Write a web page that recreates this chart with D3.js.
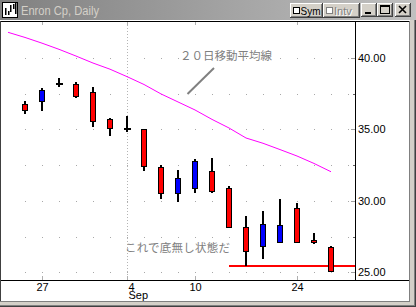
<!DOCTYPE html>
<html><head><meta charset="utf-8">
<script src="https://cdn.jsdelivr.net/npm/d3@7"></script>
<style>
html,body{margin:0;padding:0;background:#d4d0c8;overflow:hidden}
svg{display:block}
</style></head>
<body>
<script>
// ---- data ----
const slotDates = ["Aug 23","Aug 24","Aug 27","Aug 28","Aug 29","Aug 30","Aug 31","Sep 4","Sep 5","Sep 6","Sep 7","Sep 10","Sep 17","Sep 18","Sep 19","Sep 20","Sep 21","Sep 24","Sep 25","Sep 26","Sep 27"];
const candleDates = ["Aug 24","Aug 27","Aug 28","Aug 29","Aug 30","Aug 31","Sep 4","Sep 5","Sep 6","Sep 7","Sep 10","Sep 17","Sep 18","Sep 19","Sep 20","Sep 21","Sep 24","Sep 25","Sep 26"];
const openP  = [36.77,36.89,38.17,38.15,37.59,35.70,35.00,35.02,32.34,30.45,30.85,32.06,30.87,28.15,26.79,27.03,29.48,27.26,26.75];
const highP  = [36.98,37.87,38.61,38.31,37.96,35.79,35.93,35.02,32.50,32.15,32.92,32.99,31.03,28.94,29.31,30.13,29.87,27.75,26.82];
const lowP   = [36.09,36.30,37.98,37.21,35.18,34.55,34.79,32.10,30.15,29.94,30.57,30.52,28.08,25.46,25.91,27.03,27.03,26.96,25.00];
const closeP = [36.30,37.73,38.17,37.28,35.49,35.00,35.00,32.34,30.48,31.57,32.76,30.64,28.08,26.40,28.36,28.29,27.03,27.03,25.04];
const maDates = ["Aug 23","Aug 24","Aug 27","Aug 28","Aug 29","Aug 30","Aug 31","Sep 4","Sep 5","Sep 6","Sep 7","Sep 10","Sep 17","Sep 18","Sep 19","Sep 20","Sep 21","Sep 24","Sep 25","Sep 26"];
const maValues = [41.78,41.42,41.02,40.59,40.12,39.63,39.20,38.68,38.13,37.47,36.91,36.35,35.69,35.09,34.39,34.02,33.58,33.13,32.61,32.03];
const supportLevel = 25.45;
const supportStart = "Sep 18";
const yTicks = [25, 30, 35, 40];
const yMinorTicks = [27.5, 32.5, 37.5];
const gridLevels = [25, 27.5, 30, 32.5, 35, 37.5, 40];
const xTickDates = ["Aug 27","Sep 4","Sep 10","Sep 24"];
const xTickLabels = ["27","4","10","24"];
const monthBreakDate = "Sep 4";
const monthLabel = "Sep";
const title = "Enron Cp, Daily";
const maLabel = "２０日移動平均線";
const noteLabel = "これで底無し状態だ";

// ---- layout ----
const W = 416, H = 307;
const plotR = 355, plotB = 280;
const svg = d3.select("body").append("svg").attr("width", W).attr("height", H)
  .style("font-family", "'Liberation Sans', Arial, sans-serif");

const x = d3.scalePoint().domain(slotDates).range([8, 348]);
const y = d3.scaleLinear().domain([24.46, 42.5]).range([plotB, 22]);

// window frame
svg.append("rect").attr("x",0).attr("y",0).attr("width",W).attr("height",H).attr("fill","#d4d0c8");
svg.append("line").attr("x1",415.5).attr("x2",415.5).attr("y1",0).attr("y2",H).attr("stroke","#404040");
svg.append("line").attr("x1",0).attr("x2",W).attr("y1",306.5).attr("y2",306.5).attr("stroke","#404040");
svg.append("line").attr("x1",414.5).attr("x2",414.5).attr("y1",0).attr("y2",306).attr("stroke","#808080");
svg.append("line").attr("x1",0).attr("x2",415).attr("y1",305.5).attr("y2",305.5).attr("stroke","#808080");

// client area
svg.append("rect").attr("x",1).attr("y",21).attr("width",408).attr("height",280).attr("fill","#fff");
svg.append("line").attr("x1",0.5).attr("x2",0.5).attr("y1",20).attr("y2",302).attr("stroke","#404040");
svg.append("line").attr("x1",409.5).attr("x2",409.5).attr("y1",20).attr("y2",302).attr("stroke","#808080");
svg.append("line").attr("x1",0).attr("x2",410).attr("y1",301.5).attr("y2",301.5).attr("stroke","#808080");

// title bar
const defs = svg.append("defs");
const grad = defs.append("linearGradient").attr("id","tg").attr("x1","0").attr("x2","1").attr("y1","0").attr("y2","0");
grad.append("stop").attr("offset","0").attr("stop-color","#808080");
grad.append("stop").attr("offset","1").attr("stop-color","#c0c0c0");
svg.append("rect").attr("x",0).attr("y",0).attr("width",W).attr("height",20).attr("fill","url(#tg)");
svg.append("rect").attr("x",0).attr("y",20).attr("width",W-6).attr("height",1).attr("fill","#fff");
// icon
const ic = svg.append("g");
ic.append("rect").attr("x",2.5).attr("y",2.5).attr("width",15).attr("height",15).attr("fill","#fff").attr("stroke","#000");
[[5,8,15],[8,11,15],[10,5,12],[13,4,9],[15,3,14]].forEach(d=>{
  ic.append("rect").attr("x",d[0]).attr("y",d[1]).attr("width",1.5).attr("height",d[2]-d[1]).attr("fill","#000");
});
svg.append("text").attr("x",21).attr("y",15).attr("font-size",12).attr("fill","#d4d0c8")
  .attr("textLength",78).attr("lengthAdjust","spacingAndGlyphs").text(title);

function bevel(x0,y0,w,h){
  const g = svg.append("g").attr("shape-rendering","crispEdges");
  g.append("rect").attr("x",x0).attr("y",y0).attr("width",w).attr("height",h).attr("fill","#d4d0c8");
  g.append("line").attr("x1",x0).attr("x2",x0+w).attr("y1",y0+0.5).attr("y2",y0+0.5).attr("stroke","#fff");
  g.append("line").attr("x1",x0+0.5).attr("x2",x0+0.5).attr("y1",y0).attr("y2",y0+h).attr("stroke","#fff");
  g.append("line").attr("x1",x0).attr("x2",x0+w).attr("y1",y0+h-0.5).attr("y2",y0+h-0.5).attr("stroke","#404040");
  g.append("line").attr("x1",x0+w-0.5).attr("x2",x0+w-0.5).attr("y1",y0).attr("y2",y0+h).attr("stroke","#404040");
  g.append("line").attr("x1",x0+1).attr("x2",x0+w-1).attr("y1",y0+h-1.5).attr("y2",y0+h-1.5).attr("stroke","#808080");
  g.append("line").attr("x1",x0+w-1.5).attr("x2",x0+w-1.5).attr("y1",y0+1).attr("y2",y0+h-1).attr("stroke","#808080");
  return g;
}
// Sym button
bevel(290,3,33,15);
svg.append("rect").attr("x",293.5).attr("y",7.5).attr("width",6).attr("height",6).attr("fill","#fff").attr("stroke","#000").attr("shape-rendering","crispEdges");
svg.append("text").attr("x",300.5).attr("y",15).attr("font-size",11).attr("fill","#000")
  .attr("textLength",20).attr("lengthAdjust","spacingAndGlyphs").text("Sym");
// Intv button
bevel(323,3,37,15);
svg.append("rect").attr("x",326.5).attr("y",7.5).attr("width",6).attr("height",6).attr("fill","#fff").attr("stroke","#808080").attr("shape-rendering","crispEdges");
svg.append("text").attr("x",334).attr("y",15).attr("font-size",11).attr("fill","#808080")
  .style("text-shadow","1px 1px 0 #fff").text("Intv");
// min / max / close
bevel(361,3,16,14);
svg.append("rect").attr("x",365).attr("y",12).attr("width",6).attr("height",2).attr("fill","#000");
bevel(377,3,16,14);
svg.append("rect").attr("x",380.5).attr("y",5.5).attr("width",9).attr("height",8).attr("fill","none").attr("stroke","#000").attr("shape-rendering","crispEdges");
svg.append("rect").attr("x",380).attr("y",5).attr("width",10).attr("height",2).attr("fill","#000");
bevel(395,3,16,14);
svg.append("path").attr("d","M399,6 L406,13 M406,6 L399,13").attr("stroke","#000").attr("stroke-width",1.6);

// ---- plot ----
const plot = svg.append("g");
plot.append("line").attr("x1",1).attr("x2",409).attr("y1",21.5).attr("y2",21.5).attr("stroke","#000");

// grid dots
const gridG = plot.append("g").attr("shape-rendering","crispEdges");
gridLevels.forEach(lv => {
  slotDates.slice(1).forEach(d => {
    gridG.append("rect").attr("x", x(d)).attr("y", Math.round(y(lv))).attr("width",1).attr("height",1).attr("fill","#a8a8a8");
  });
});
// month break vertical dotted line
plot.append("line").attr("x1", x(monthBreakDate)+0.5).attr("x2", x(monthBreakDate)+0.5)
  .attr("y1", 22).attr("y2", plotB).attr("stroke","#b4b4b4").attr("stroke-dasharray","1,2");
// top / bottom date ticks
xTickDates.forEach(d => {
  plot.append("line").attr("x1",x(d)+0.5).attr("x2",x(d)+0.5).attr("y1",22).attr("y2",25).attr("stroke","#b0b0b0");
  plot.append("line").attr("x1",x(d)+0.5).attr("x2",x(d)+0.5).attr("y1",276).attr("y2",280).attr("stroke","#b0b0b0");
});

// moving average
plot.append("path").datum(maValues)
  .attr("d", d3.line().x((v,i)=>x(maDates[i])).y(v=>y(v)))
  .attr("fill","none").attr("stroke","#ff00ff").attr("stroke-width",1);

// support line
plot.append("rect").attr("x", x(supportStart)).attr("y", Math.round(y(supportLevel))-1)
  .attr("width", plotR - x(supportStart)).attr("height", 2).attr("fill","#ff0000");

// candles
const cg = plot.append("g").attr("shape-rendering","crispEdges");
candleDates.forEach((d,i) => {
  const cx = x(d);
  const o = openP[i], c = closeP[i], h = highP[i], l = lowP[i];
  const yh = Math.round(y(h)), yl = Math.round(y(l));
  cg.append("rect").attr("x",cx-1).attr("y",yh).attr("width",2).attr("height",Math.max(1,yl-yh)).attr("fill","#000");
  if (o === c) {
    cg.append("rect").attr("x",cx-3).attr("y",Math.round(y(o))-1).attr("width",7).attr("height",2).attr("fill","#000");
  } else {
    const top = Math.round(y(Math.max(o,c))), bot = Math.round(y(Math.min(o,c)));
    cg.append("rect").attr("x",cx-2.5).attr("y",top+0.5).attr("width",5).attr("height",Math.max(1,bot-top-1))
      .attr("fill", c > o ? "#0000ff" : "#ff0000").attr("stroke","#000").attr("stroke-width",1);
  }
});

// axes lines
plot.append("line").attr("x1",plotR+0.5).attr("x2",plotR+0.5).attr("y1",21).attr("y2",281).attr("stroke","#000");
plot.append("line").attr("x1",1).attr("x2",409).attr("y1",280.5).attr("y2",280.5).attr("stroke","#000");

// y axis labels
const yAxis = d3.axisRight(y).tickValues(yTicks).tickFormat(d3.format(".2f")).tickSize(0).tickPadding(3);
const yg = svg.append("g").attr("transform",`translate(${plotR},0)`).call(yAxis);
yg.select(".domain").remove();
yg.selectAll("text").attr("font-size",11).attr("font-family","'Liberation Sans', Arial, sans-serif").attr("fill","#000");
yTicks.forEach(t => {
  svg.append("line").attr("x1",351).attr("x2",355).attr("y1",Math.round(y(t))+0.5).attr("y2",Math.round(y(t))+0.5).attr("stroke","#a0a0a0");
});
yMinorTicks.forEach(t => {
  svg.append("line").attr("x1",353).attr("x2",355).attr("y1",Math.round(y(t))+0.5).attr("y2",Math.round(y(t))+0.5).attr("stroke","#606060");
});

// x axis labels (month name as second line of the month-start label)
const xAxis = d3.axisBottom(x).tickValues(xTickDates)
  .tickFormat(d => xTickLabels[xTickDates.indexOf(d)]).tickSize(0).tickPadding(3);
const xg = svg.append("g").attr("transform",`translate(0,${plotB})`).call(xAxis);
xg.select(".domain").remove();
xg.selectAll("text").attr("font-size",11).attr("font-family","'Liberation Sans', Arial, sans-serif").attr("fill","#000")
  .attr("text-anchor", d => d === monthBreakDate ? "start" : "middle")
  .attr("dx", d => d === monthBreakDate ? 1 : 0);
xg.selectAll("text").filter(d => d === monthBreakDate).each(function(d){
  const t = d3.select(this);
  const lbl = t.text();
  t.text(null);
  t.append("tspan").attr("x",0).attr("dx",1).text(lbl);
  t.append("tspan").attr("x",0).attr("dx",1).attr("dy","0.75em").text(monthLabel);
});

// annotations
const jp = "'Noto Sans CJK JP', sans-serif";
svg.append("text").attr("x",180).attr("y",59.5).attr("font-size",11.5).attr("font-family",jp)
  .attr("fill","#808080").attr("textLength",92).attr("lengthAdjust","spacing").text(maLabel);
svg.append("line").attr("x1",214).attr("y1",68).attr("x2",187.5).attr("y2",94).attr("stroke","#808080").attr("stroke-width",2);
svg.append("text").attr("x",125).attr("y",251.5).attr("font-size",11.5).attr("font-family",jp)
  .attr("fill","#808080").attr("textLength",105).attr("lengthAdjust","spacing").text(noteLabel);
</script>
</body></html>
